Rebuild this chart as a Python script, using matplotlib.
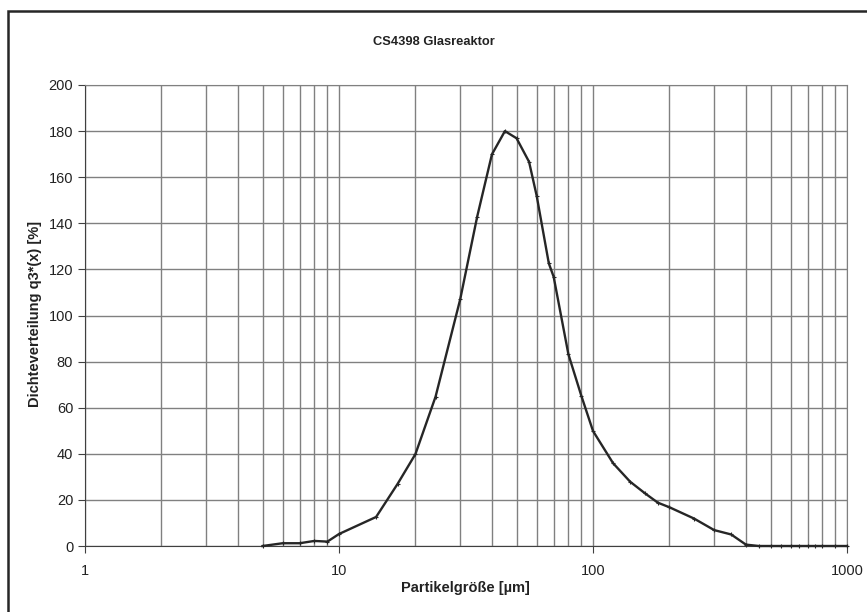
import matplotlib
matplotlib.use("Agg")
import matplotlib.pyplot as plt
from matplotlib.patches import Rectangle
from matplotlib.ticker import LogLocator, NullFormatter, FixedLocator

plt.rcParams['font.family'] = ['Liberation Sans', 'DejaVu Sans']

# particle size classes [um] and density q3*(x) [%]
size_um = [5, 6, 7, 8, 9, 10, 14, 17, 20, 24, 30, 35, 40, 45, 50, 56, 60, 67, 70,
           80, 90, 100, 120, 140, 160, 180, 200, 250, 300, 350, 400, 450, 500,
           550, 600, 650, 700, 750, 800, 900, 1000]
q3 = [0.0, 1.2, 1.2, 2.2, 1.9, 5.2, 12.6, 26.9, 39.9, 64.8, 107.0, 142.9, 169.9,
      180.0, 176.9, 166.7, 152.0, 122.6, 116.8, 83.2, 65.1, 49.9, 35.9, 27.9,
      22.9, 18.8, 16.8, 11.9, 6.9, 5.0, 0.6, 0.0, 0.0, 0.0, 0.0, 0.0, 0.0, 0.0,
      0.0, 0.0, 0.0]

W, H = 867, 612
fig = plt.figure(figsize=(W/100, H/100), dpi=100)
ax = fig.add_axes([85/W, 1-546/H, (847-85)/W, (546-85)/H])

ax.plot(size_um, q3, color='#262626', lw=1.7, marker='+', ms=3, mew=0.8,
        zorder=3, clip_on=False)

ax.set_xscale('log')
ax.set_xlim(1, 1000)
ax.set_ylim(0, 200)
ax.yaxis.set_major_locator(FixedLocator(range(0, 201, 20)))
ax.xaxis.set_major_locator(FixedLocator([1, 10, 100, 1000]))
ax.set_xticklabels(['1', '10', '100', '1000'])
ax.xaxis.set_minor_locator(LogLocator(base=10, subs=range(2, 10)))
ax.xaxis.set_minor_formatter(NullFormatter())

ax.grid(True, which='major', axis='y', color='#808080', lw=1.0)
ax.grid(True, which='both', axis='x', color='#808080', lw=1.0)
ax.set_axisbelow(True)

ax.tick_params(axis='both', which='major', labelsize=10.5, length=5,
               color='#404040', labelcolor='#222222')
ax.tick_params(axis='x', which='minor', length=0)
ax.tick_params(axis='x', pad=8)

for side in ['top', 'right']:
    ax.spines[side].set_color('#808080')
for side in ['left', 'bottom']:
    ax.spines[side].set_color('#404040')

# title and axis labels placed in figure pixels
fig.text(433.5/W, 1-42/H, 'CS4398 Glasreaktor', fontsize=9.3, fontweight='bold',
         color='#222222', ha='center', va='center')
fig.text(465.5/W, 1-588/H, 'Partikelgröße [µm]', fontsize=10.5, fontweight='bold',
         color='#222222', ha='center', va='center')
fig.text(35/W, 1-314/H, 'Dichteverteilung q3*(x) [%]', fontsize=10.5,
         fontweight='bold', color='#222222', ha='center', va='center',
         rotation=90)

# outer frame of the chart area
fig.patches.append(Rectangle((7.5/W, -0.05), 1.2, 1 - 10.5/H + 0.05,
                             transform=fig.transFigure, fill=False,
                             edgecolor='#262626', lw=1.8))

fig.savefig('out.png', dpi=100)
